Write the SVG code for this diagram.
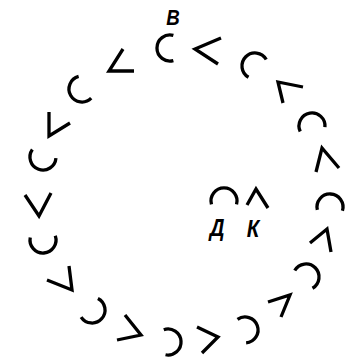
<svg xmlns="http://www.w3.org/2000/svg" xmlns:xlink="http://www.w3.org/1999/xlink" width="359" height="361" viewBox="0 0 359 361">
<style>
.s{fill:none;stroke:#000;stroke-width:3.3;stroke-linecap:butt;stroke-linejoin:miter}
.t{font-family:"Liberation Sans",Arial,sans-serif;font-style:italic;font-weight:bold;fill:#000;text-anchor:middle}
</style>
<defs>
<path id="c" d="M3.36,12.55 A13,13 0 1 1 3.36,-12.55"/>
</defs>
<rect width="359" height="361" fill="#fff"/>
<g id="n1"><use xlink:href="#c" class="s" transform="translate(170,48)"/><text class="t" font-size="22" transform="translate(173,25) scale(0.85,1)">В</text></g>
<g id="n2"><polyline class="s" points="221,38 195,49 218,64"/></g>
<g id="n3"><use xlink:href="#c" class="s" transform="translate(255,66) rotate(45)"/></g>
<g id="n4"><polyline class="s" points="303,87 278,82 283,103"/></g>
<g id="n5"><use xlink:href="#c" class="s" transform="translate(312,126) rotate(80)"/></g>
<g id="n6"><polyline class="s" points="339,168 322,148 316,172"/></g>
<g id="n7"><use xlink:href="#c" class="s" transform="translate(330,207) rotate(92)"/></g>
<g id="n8"><polyline class="s" points="310,243 327,229 331,252"/></g>
<g id="n9"><use xlink:href="#c" class="s" transform="translate(306,277) rotate(135)"/></g>
<g id="n10"><polyline class="s" points="268,302 290,295 281,317"/></g>
<g id="n11"><use xlink:href="#c" class="s" transform="translate(245,330) rotate(160)"/></g>
<g id="n12"><polyline class="s" points="197,327 218,337 202,353"/></g>
<g id="n13"><use xlink:href="#c" class="s" transform="translate(168,342) rotate(176)"/></g>
<g id="n14"><polyline class="s" points="125,315 141,335 117,340"/></g>
<g id="n15"><use xlink:href="#c" class="s" transform="translate(92,310) rotate(222)"/></g>
<g id="n16"><polyline class="s" points="69,266 72,290 47,280"/></g>
<g id="n17"><use xlink:href="#c" class="s" transform="translate(43,240) rotate(266)"/></g>
<g id="n18"><polyline class="s" points="25,195 39,216 51,193"/></g>
<g id="n19"><use xlink:href="#c" class="s" transform="translate(43,157) rotate(290)"/></g>
<g id="n20"><polyline class="s" points="49,112 49,136 70,123"/></g>
<g id="n21"><use xlink:href="#c" class="s" transform="translate(82,89) rotate(330)"/></g>
<g id="n22"><polyline class="s" points="123,49 109,71 134,71"/></g>
<g id="nD"><use xlink:href="#c" class="s" transform="translate(224,201) rotate(90)"/><text class="t" font-size="24" transform="translate(217,236) scale(0.85,1)">Д</text></g>
<g id="nK"><polyline class="s" points="247,205 256,189 268,208"/><text class="t" font-size="24" transform="translate(253,237) scale(0.85,1)">К</text></g>
<g id="connectors"></g>
</svg>
